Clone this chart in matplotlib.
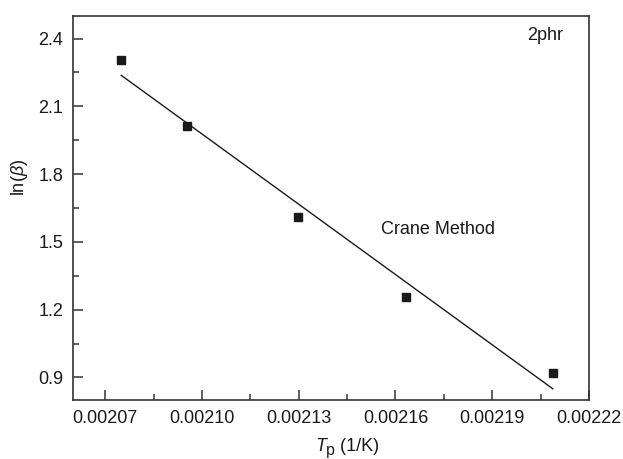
import numpy as np
import matplotlib
matplotlib.use("Agg")
import matplotlib.pyplot as plt
from matplotlib.ticker import MultipleLocator, FixedLocator

plt.rcParams['font.family'] = ['Liberation Sans', 'DejaVu Sans']
plt.rcParams['mathtext.fontset'] = 'custom'
plt.rcParams['mathtext.rm'] = 'Liberation Sans'
plt.rcParams['mathtext.it'] = 'Liberation Sans:italic'

# Inverse peak temperature (1/K) and ln(heating rate)
inv_tp = [0.002075, 0.0020953, 0.0021297, 0.0021632, 0.0022088]
ln_beta = [2.304, 2.015, 1.611, 1.256, 0.919]
x_ticks = [0.00207, 0.00210, 0.00213, 0.00216, 0.00219, 0.00222]
x_tick_labels = ["0.00207", "0.00210", "0.00213", "0.00216", "0.00219", "0.00222"]
y_ticks = [0.9, 1.2, 1.5, 1.8, 2.1, 2.4]

fs = 13
fig = plt.figure(figsize=(6.23, 4.59), dpi=100)
ax = fig.add_axes([0.1172, 0.1285, 0.8282, 0.8366])

ink = '#1a1a1a'
ax.plot(inv_tp, ln_beta, 's', color=ink, ms=6, zorder=3)

# Linear least-squares fit drawn across the data range
slope, intercept = np.polyfit(inv_tp, ln_beta, 1)
xf = np.array([min(inv_tp), max(inv_tp)])
ax.plot(xf, slope * xf + intercept, '-', color=ink, lw=1.0)

ax.set_xlim(0.00206, 0.00222)
ax.set_ylim(0.8, 2.5)
ax.xaxis.set_major_locator(FixedLocator(x_ticks))
ax.set_xticklabels(x_tick_labels)
ax.xaxis.set_minor_locator(FixedLocator([t + 0.000015 for t in x_ticks[:-1]]))
ax.yaxis.set_major_locator(FixedLocator(y_ticks))
ax.set_yticklabels([f"{v:.1f}" for v in y_ticks])
ax.yaxis.set_minor_locator(MultipleLocator(0.15))

for s in ax.spines.values():
    s.set_color('#333333')
    s.set_linewidth(1.2)
ax.tick_params(which='both', direction='in', top=False, right=False,
               color='#333333', width=1.1, labelsize=fs, labelcolor=ink)
ax.tick_params(which='major', length=7, pad=7)
ax.tick_params(which='minor', length=4)

# x label: italic T with a near full-size, slightly lowered "p"
t1 = ax.text(0.469, -0.132, 'T', style='italic', fontsize=fs, color=ink,
             transform=ax.transAxes, ha='left', va='baseline')
t2 = ax.annotate('p', xy=(1, 0), xycoords=t1, xytext=(0.3, -2.2),
                 textcoords='offset points', ha='left', va='bottom',
                 fontsize=fs - 1.5, color=ink)
ax.annotate(' (1/K)', xy=(1, 0), xycoords=(t2, t1), xytext=(0, 0),
            textcoords='offset points', ha='left', va='bottom',
            fontsize=fs, color=ink)

ax.set_ylabel(r'ln($\beta$)', fontsize=fs, color=ink)
ax.yaxis.set_label_coords(-0.083, 0.58)

ax.text(0.915, 0.948, '2phr', transform=ax.transAxes, ha='center', va='center',
        fontsize=fs, color=ink)
ax.text(0.707, 0.443, 'Crane Method', transform=ax.transAxes, ha='center', va='center',
        fontsize=fs, color=ink)

fig.savefig('out.png', dpi=100)
